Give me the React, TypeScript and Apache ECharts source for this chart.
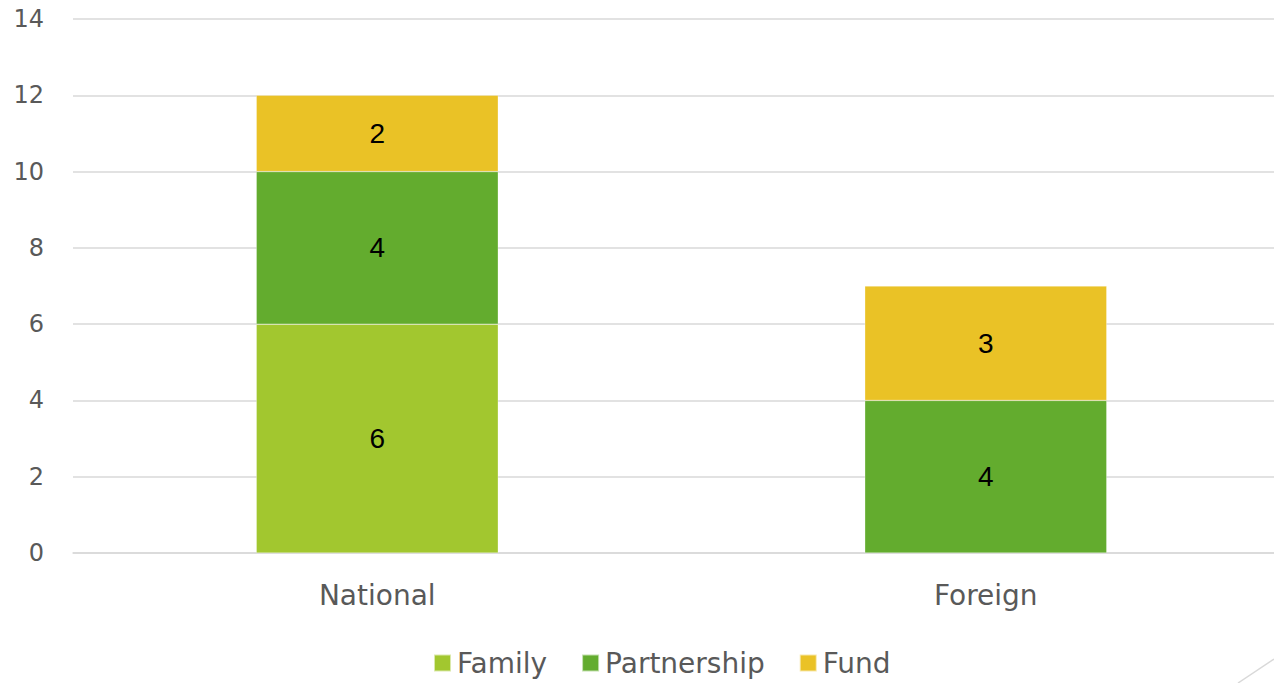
import React, { useEffect, useRef } from "react";
import * as echarts from "echarts";

const categories = ["National", "Foreign"];
const familyValues = [6, 0];
const partnershipValues = [4, 4];
const fundValues = [2, 3];
const seriesNames = ["Family", "Partnership", "Fund"];
const colors = ["#A2C72F", "#63AC2E", "#EAC226"];

export default function App() {
  const ref = useRef<HTMLDivElement>(null);
  useEffect(() => {
    document.body.style.margin = "0";
    const chart = echarts.init(ref.current!, null, { renderer: "svg" });
    const font = "'DejaVu Sans', sans-serif";
    const mk = (name: string, data: number[], color: string) => ({
      name,
      type: "bar",
      stack: "total",
      barWidth: 242,
      data: data.map((v) => (v === 0 ? null : v)),
      itemStyle: { color, borderColor: "rgba(255,255,255,0.6)", borderWidth: 0.5 },
      label: {
        show: true,
        position: "inside",
        color: "#000",
        fontFamily: "'Liberation Sans', Arial, sans-serif",
        fontSize: 28,
      },
    });
    chart.setOption({
      animation: false,
      grid: { left: 73, right: 40, top: 19, bottom: 130 },
      legend: {
        left: 433,
        top: 649,
        padding: 0,
        itemWidth: 17,
        itemHeight: 17,
        itemGap: 34,
        icon: "rect",
        textStyle: { color: "#595959", fontFamily: font, fontSize: 28, padding: [0, 0, 0, 1] },
        data: seriesNames,
      },
      xAxis: {
        type: "category",
        data: categories,
        axisLine: { lineStyle: { color: "#D9D9D9", width: 1.5 } },
        axisTick: { show: false },
        axisLabel: { color: "#595959", fontFamily: font, fontSize: 28, margin: 28 },
      },
      yAxis: {
        type: "value",
        min: 0,
        max: 14,
        interval: 2,
        axisLine: { show: false },
        axisTick: { show: false },
        axisLabel: { color: "#595959", fontFamily: font, fontSize: 24, margin: 29 },
        splitLine: { lineStyle: { color: "#D9D9D9", width: 1.5 } },
      },
      graphic: [
        {
          type: "line",
          shape: { x1: 1238, y1: 683, x2: 1274, y2: 659 },
          style: { stroke: "#D9D9D9", lineWidth: 1.5 },
        },
      ],
      series: [
        mk(seriesNames[0], familyValues, colors[0]),
        mk(seriesNames[1], partnershipValues, colors[1]),
        mk(seriesNames[2], fundValues, colors[2]),
      ],
    });
    return () => chart.dispose();
  }, []);
  return (
    <div style={{ width: 1274, height: 683, overflow: "hidden", position: "relative" }}>
      <div ref={ref} style={{ width: 1330, height: 683 }} />
    </div>
  );
}
